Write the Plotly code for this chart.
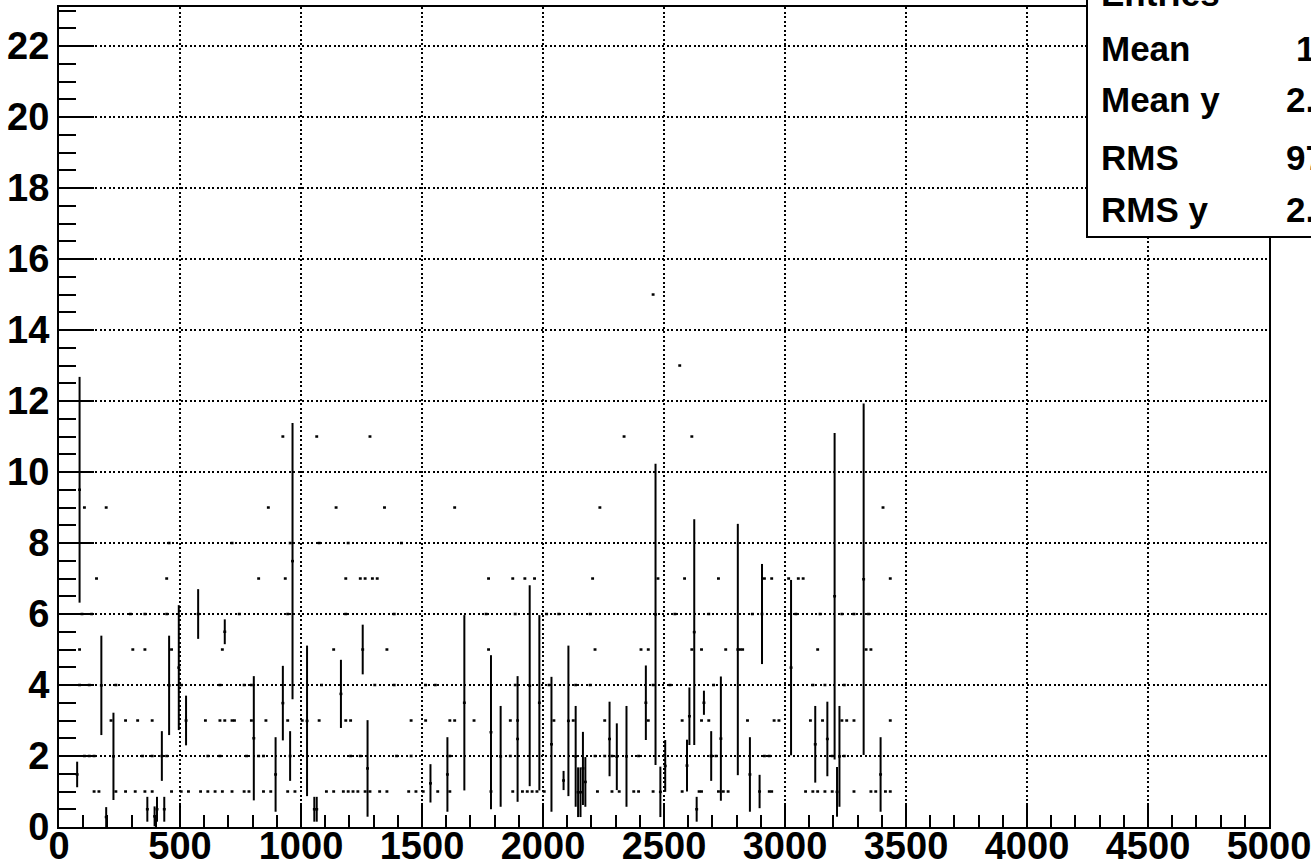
import plotly.graph_objects as go

# ---------------- data (TProfile-like: bin centre, mean, error) ----------------
# bins that show a vertical spread
bar_x = [75, 85, 175, 195, 225, 365, 395, 405, 425, 435, 455, 495, 525, 575, 685,
         805, 895, 925, 955, 965, 1025, 1055, 1065, 1165, 1255, 1275,
         1535, 1605, 1675, 1785, 1825, 1895, 1945, 1985, 2035, 2085, 2105, 2135,
         2145, 2155, 2165, 2175, 2275, 2305, 2345, 2425, 2465, 2485, 2505,
         2595, 2605, 2625, 2635, 2665, 2695, 2735, 2805, 2855, 2895, 2905,
         3025, 3125, 3175, 3205, 3215, 3225, 3325, 3395]
bar_mean = [1.48, 9.50, 3.99, 0.28, 1.99, 0.50, 0.30, 0.50, 2.00, 0.50, 3.99, 4.49, 3.00, 6.00, 5.50,
            2.50, 1.48, 3.49, 2.00, 7.49, 2.99, 0.50, 0.50, 3.75, 5.00, 1.65,
            1.23, 1.48, 3.50, 2.67, 1.99, 2.48, 3.98, 3.50, 2.33, 1.31, 2.99, 1.99,
            0.98, 0.98, 1.65, 1.27, 2.48, 1.98, 1.99, 3.50, 5.99, 0.99, 1.72,
            1.73, 3.12, 5.49, 0.50, 3.50, 2.00, 2.49, 5.00, 1.48, 1.00, 6.00,
            4.49, 2.33, 2.48, 6.50, 0.99, 1.99, 6.98, 1.48]
bar_err = [0.36, 3.18, 1.40, 0.28, 1.23, 0.35, 0.28, 0.35, 0.70, 0.35, 1.40, 1.76, 0.70, 0.70, 0.35,
           1.75, 1.05, 1.05, 0.70, 3.89, 2.12, 0.35, 0.35, 0.96, 0.70, 1.36,
           0.54, 1.05, 2.47, 2.17, 1.42, 1.77, 2.83, 2.47, 1.90, 0.27, 2.12, 1.42,
           0.70, 0.70, 1.03, 0.70, 1.05, 0.94, 1.42, 1.05, 4.24, 0.71, 0.73,
           0.73, 0.81, 3.18, 0.35, 0.34, 0.70, 1.75, 3.54, 1.05, 0.47, 1.41,
           2.47, 1.08, 1.05, 4.60, 0.70, 1.42, 4.95, 1.05]

# single-entry bins (no spread): bin centre and value
single_x = [2455, 2565,
            925, 1065, 1285, 2335, 2615,
            105, 195, 865, 1145, 1345, 1635, 2235, 3405,
            455, 715, 955, 1075, 1195, 1415,
            155, 445, 825, 935, 1185, 1245, 1265, 1295, 1315, 1775, 1875, 1925, 1965, 2205,
            2475, 2585, 2725, 2915, 2945, 3015, 3055, 3075, 3435,
            95, 135, 295, 355, 445, 745, 945, 1185, 1385, 1765, 1885, 2015, 2065, 2195,
            2545, 2685, 2865, 3045, 3145, 3235, 3285, 3345,
            85, 305, 355, 465, 675, 1135, 1355, 1775, 2215, 2405, 2435, 2615, 2655, 2755,
            2815, 2825, 3135, 3335, 3355,
            85, 125, 235, 505, 665, 765, 795, 1085, 1305, 1385, 1515, 1555, 1885, 2025,
            2135, 2195, 2455, 2525, 2705, 3115, 3165, 3245,
            215, 275, 325, 385, 605, 665, 685, 715, 725, 795, 855, 945, 1005, 1075, 1185,
            1205, 1455, 1515, 1615, 1635, 1715, 1865, 1895, 2045, 2125, 2255, 2435, 2575,
            2655, 2685, 2845, 2955, 2975, 3105, 3155, 3235, 3255, 3285, 3435,
            105, 125, 145, 345, 385, 445, 615, 665, 775, 825, 845, 1205, 1245, 1395, 1455,
            1615, 1865, 2215, 2255, 2285, 2395, 2695, 2715, 2915, 2935, 3195, 3245,
            145, 165, 235, 275, 315, 355, 385, 465, 505, 535, 585, 615, 645, 675, 715,
            765, 785, 845, 875, 945, 975, 1105, 1135, 1175, 1195, 1215, 1235, 1265, 1285,
            1325, 1355, 1445, 1475, 1505, 1565, 1615, 1785, 1875, 1915, 1935, 1955, 1975,
            2005, 2225, 2285, 2315, 2375, 2395, 2455, 2575, 2645, 2655, 2725, 2745, 2765,
            2935, 2945, 3085, 3115, 3135, 3165, 3195, 3285, 3355, 3375, 3415, 3435, 3445]
single_y = [15, 13,
            11, 11, 11, 11, 11,
            9, 9, 9, 9, 9, 9, 9, 9,
            8, 8, 8, 8, 8, 8,
            7, 7, 7, 7, 7, 7, 7, 7, 7, 7, 7, 7, 7, 7,
            7, 7, 7, 7, 7, 7, 7, 7, 7,
            6, 6, 6, 6, 6, 6, 6, 6, 6, 6, 6, 6, 6, 6,
            6, 6, 6, 6, 6, 6, 6, 6,
            5, 5, 5, 5, 5, 5, 5, 5, 5, 5, 5, 5, 5, 5,
            5, 5, 5, 5, 5,
            4, 4, 4, 4, 4, 4, 4, 4, 4, 4, 4, 4, 4, 4,
            4, 4, 4, 4, 4, 4, 4, 4,
            3, 3, 3, 3, 3, 3, 3, 3, 3, 3, 3, 3, 3, 3, 3,
            3, 3, 3, 3, 3, 3, 3, 3, 3, 3, 3, 3, 3,
            3, 3, 3, 3, 3, 3, 3, 3, 3, 3, 3,
            2, 2, 2, 2, 2, 2, 2, 2, 2, 2, 2, 2, 2, 2, 2,
            2, 2, 2, 2, 2, 2, 2, 2, 2, 2, 2, 2,
            1, 1, 1, 1, 1, 1, 1, 1, 1, 1, 1, 1, 1, 1, 1,
            1, 1, 1, 1, 1, 1, 1, 1, 1, 1, 1, 1, 1, 1,
            1, 1, 1, 1, 1, 1, 1, 1, 1, 1, 1, 1, 1,
            1, 1, 1, 1, 1, 1, 1, 1, 1, 1, 1, 1, 1,
            1, 1, 1, 1, 1, 1, 1, 1, 1, 1, 1, 1]

bin_half_width = 6

x_ticks = [0, 500, 1000, 1500, 2000, 2500, 3000, 3500, 4000, 4500, 5000]
y_ticks = [0, 2, 4, 6, 8, 10, 12, 14, 16, 18, 20, 22]

stat_labels = ["Entries", "Mean", "Mean y", "RMS", "RMS y"]
stat_values = ["946", "1731", "2.573", "972.1", "2.105"]

# ---------------- figure ----------------
W, H = 1311, 868
L, R, T, B = 59, 42, 7, 41
pw, ph = W - L - R, H - T - B

def px2paper_x(px):
    return (px - L) / pw

def py2paper_y(py):
    return (H - B - py) / ph

xs = bar_x + single_x
ys = bar_mean + single_y
es = bar_err + [0] * len(single_x)

font_family = "Liberation Sans, Arial, Helvetica, sans-serif"

fig = go.Figure()
fig.add_trace(go.Scatter(
    x=xs, y=ys, mode="markers",
    marker=dict(size=1, color="black", opacity=0),
    error_y=dict(type="data", array=es, visible=True, width=0, thickness=2, color="black"),
    error_x=dict(type="constant", value=bin_half_width, visible=True, width=0, thickness=2.5, color="black"),
    showlegend=False, hoverinfo="skip",
))

axis_common = dict(
    showline=True, linewidth=2, linecolor="black", mirror=True,
    ticks="inside", tickwidth=2, tickcolor="black",
    showgrid=True, gridcolor="black", gridwidth=1.5, griddash="2px,2.5px",
    zeroline=False, automargin=False, ticklabeloverflow="allow",
    tickfont=dict(family=font_family, size=38, color="black", weight="bold"),
)

fig.update_xaxes(
    range=[0, 5000], tickmode="array", tickvals=x_ticks, ticktext=[str(v) for v in x_ticks],
    ticklen=24, ticklabelstandoff=-16,
    minor=dict(dtick=100, tick0=0, ticklen=12, tickwidth=2, ticks="inside", tickcolor="black", showgrid=False),
    **axis_common,
)
fig.update_yaxes(
    range=[0, 23.1], tickmode="array", tickvals=y_ticks, ticktext=[str(v) for v in y_ticks],
    ticklen=35,
    minor=dict(dtick=0.5, tick0=0, ticklen=17, tickwidth=2, ticks="inside", tickcolor="black", showgrid=False),
    **axis_common,
)

# stats box (partly outside the canvas, as in the original)
fig.add_shape(type="rect", xref="paper", yref="paper",
              x0=px2paper_x(1087), x1=px2paper_x(1400),
              y0=py2paper_y(237), y1=py2paper_y(-80),
              line=dict(color="black", width=2), fillcolor="white", layer="above")

row_centres = [-6.5, 48, 100, 157.5, 209]
for lab, val, cy in zip(stat_labels, stat_values, row_centres):
    fig.add_annotation(x=px2paper_x(1099), y=py2paper_y(cy), xref="paper", yref="paper",
                       text=lab, showarrow=False, xanchor="left", yanchor="middle",
                       font=dict(family=font_family, size=35, color="black", weight="bold"))
    fig.add_annotation(x=px2paper_x(1376), y=py2paper_y(cy), xref="paper", yref="paper",
                       text=val, showarrow=False, xanchor="right", yanchor="middle",
                       font=dict(family=font_family, size=35, color="black", weight="bold"))

fig.update_layout(
    width=W, height=H,
    margin=dict(l=L, r=R, t=T, b=B, pad=0, autoexpand=False),
    paper_bgcolor="white", plot_bgcolor="white",
    showlegend=False,
)

fig.write_html("out.html", config={"displayModeBar": False, "staticPlot": True},
               post_script="document.body.style.margin='0px';document.body.style.padding='0px';")
